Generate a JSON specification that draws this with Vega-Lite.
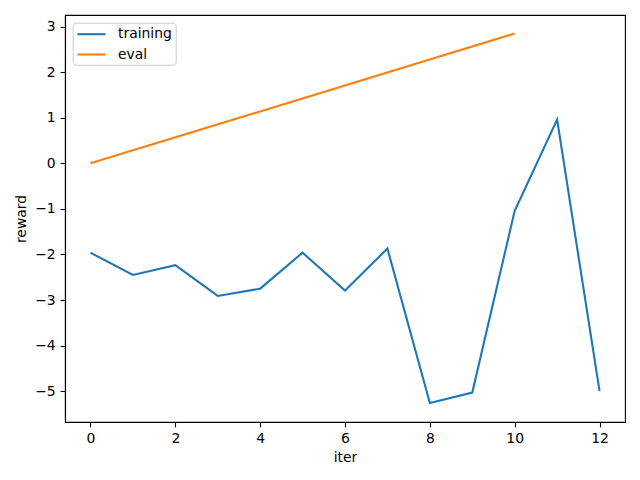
{
  "$schema": "https://vega.github.io/schema/vega-lite/v6.json",
  "width": 560,
  "height": 407,
  "autosize": {"type": "none"},
  "padding": {"left": 65, "top": 15, "right": 15, "bottom": 58},
  "background": "white",
  "config": {
    "font": "DejaVu Sans",
    "view": {"stroke": "black", "strokeWidth": 1.1},
    "axis": {
      "grid": false,
      "domainColor": "black",
      "domainWidth": 1.1,
      "tickColor": "black",
      "tickWidth": 1.1,
      "tickSize": 4.9,
      "labelPadding": 4.9,
      "labelFontSize": 13.9,
      "labelColor": "black",
      "titleFontSize": 13.9,
      "titleFontWeight": "normal",
      "titleColor": "black"
    }
  },
  "data": {
    "values": [
      {"iter": 0, "reward": -1.96, "series": "training"},
      {"iter": 1, "reward": -2.45, "series": "training"},
      {"iter": 2, "reward": -2.235, "series": "training"},
      {"iter": 3, "reward": -2.91, "series": "training"},
      {"iter": 4, "reward": -2.75, "series": "training"},
      {"iter": 5, "reward": -1.96, "series": "training"},
      {"iter": 6, "reward": -2.79, "series": "training"},
      {"iter": 7, "reward": -1.87, "series": "training"},
      {"iter": 8, "reward": -5.26, "series": "training"},
      {"iter": 9, "reward": -5.03, "series": "training"},
      {"iter": 10, "reward": -1.04, "series": "training"},
      {"iter": 11, "reward": 0.96, "series": "training"},
      {"iter": 12, "reward": -5.0, "series": "training"},
      {"iter": 0, "reward": 0.0, "series": "eval"},
      {"iter": 10, "reward": 2.85, "series": "eval"}
    ]
  },
  "mark": {"type": "line", "strokeWidth": 2.1},
  "encoding": {
    "x": {
      "field": "iter",
      "type": "quantitative",
      "title": "iter",
      "scale": {"domain": [-0.6, 12.6], "nice": false, "zero": false},
      "axis": {"values": [0, 2, 4, 6, 8, 10, 12], "labelFlush": false, "titlePadding": 5}
    },
    "y": {
      "field": "reward",
      "type": "quantitative",
      "title": "reward",
      "scale": {"domain": [-5.676, 3.256], "nice": false, "zero": false},
      "axis": {"values": [-5, -4, -3, -2, -1, 0, 1, 2, 3], "labelFlush": false, "titlePadding": 6}
    },
    "color": {
      "field": "series",
      "type": "nominal",
      "scale": {"domain": ["training", "eval"], "range": ["#1f77b4", "#ff7f0e"]},
      "legend": {
        "title": null,
        "orient": "none",
        "legendX": 7.7,
        "legendY": 7.7,
        "symbolType": "M-2,0H2",
        "symbolSize": 196,
        "symbolStrokeWidth": 2.1,
        "symbolOffset": 7.3,
        "labelFontSize": 13.9,
        "labelColor": "black",
        "labelOffset": 18,
        "rowPadding": 4.3,
        "padding": 3,
        "strokeColor": "#cccccc",
        "fillColor": "white",
        "cornerRadius": 3
      }
    }
  }
}
